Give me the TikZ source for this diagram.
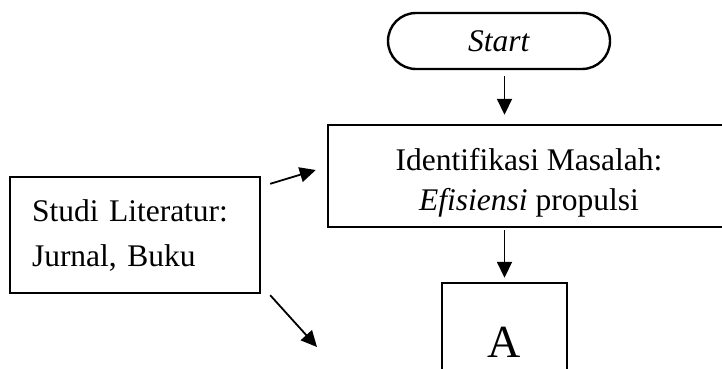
\documentclass[tikz,border=0pt]{standalone}
\usepackage{fontspec}
\setmainfont{Liberation Serif}
\usetikzlibrary{arrows.meta,shapes.misc}
\begin{document}
\begin{tikzpicture}[x=1pt, y=-1pt,
  every node/.style={font=\fontsize{31.5}{40}\selectfont, line width=2.4pt, inner sep=0pt},
  kotak/.style={draw, rectangle},
  panah/.style={-{Triangle[length=16pt,width=15pt]}, line width=1.8pt}]
  \clip (0,0) rectangle (722,369);
  \coordinate (S) at (499,41);
  \coordinate (I) at (529,176);
  \coordinate (L) at (135,235);
  \coordinate (A) at (504.5,342.5);
  \coordinate (lanjut) at (317,347);

  \node[draw, rounded rectangle, minimum width=222pt, minimum height=56pt] (start) at (S) {\textit{Start}};
  \node[kotak, minimum width=402pt, minimum height=102pt, align=center] (ident) at (I) {\rule{0pt}{35pt}Identifikasi Masalah:\\ \textit{Efisiensi} propulsi};
  \node[kotak, minimum width=250pt, minimum height=116pt, text width=206pt, inner xsep=22pt, align=left, font=\fontsize{31.5}{45}\selectfont] (studi) at (L) {Studi Literatur:\\ Jurnal, Buku};
  \node[kotak, minimum width=125pt, minimum height=119pt, font=\fontsize{46}{50}\selectfont] (boxA) at (A) {A};

  \draw[panah, shorten <=6pt, shorten >=9pt] (start.south -| boxA) -- (ident.north -| boxA);
  \draw[panah, shorten <=2pt, shorten >=4pt] (ident.south -| boxA) -- (boxA.north);
  \draw[panah] ([xshift=9pt,yshift=-8pt]studi.north east) -- ([xshift=-11pt,yshift=6pt]ident.west);
  \draw[panah] ([xshift=9pt,yshift=-1pt]studi.south east) -- (lanjut);
\end{tikzpicture}
\end{document}
